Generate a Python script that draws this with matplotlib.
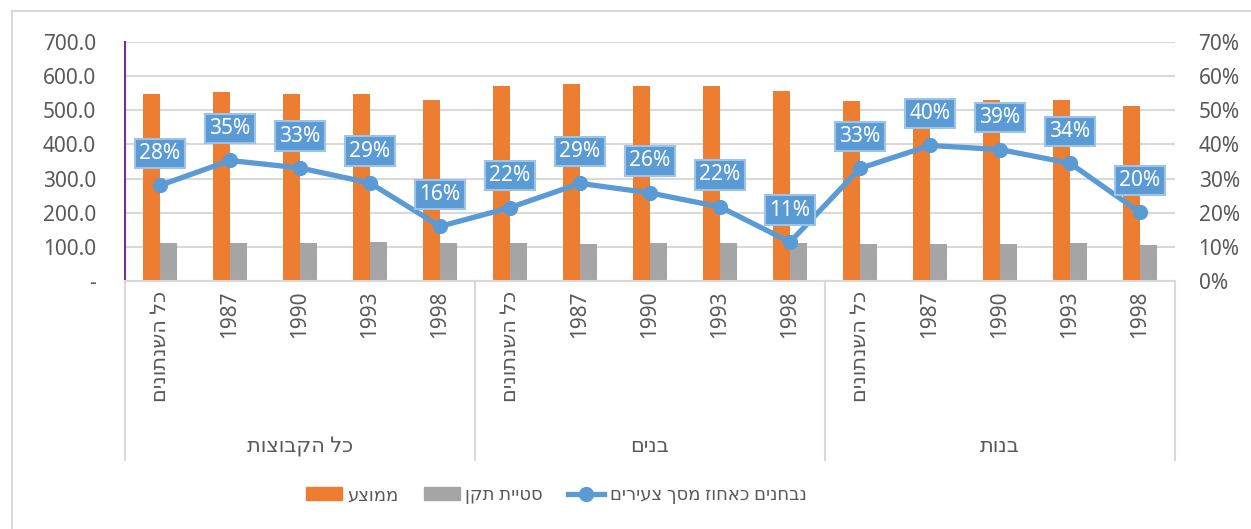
import numpy as np
import matplotlib
matplotlib.use("Agg")
import matplotlib.pyplot as plt
from matplotlib.lines import Line2D
from matplotlib.patches import Patch

plt.rcParams['font.family'] = ['Noto Sans', 'DejaVu Sans']


def heb(s):
    # matplotlib has no bidi support, so flip Hebrew strings for display
    if any('\u0590' <= c <= '\u05ff' for c in s):
        return s[::-1]
    return s


# ----- DATA -----
groups = ["כל הקבוצות", "בנים", "בנות"]
years = ["כל השנתונים", "1987", "1990", "1993", "1998"]
mean_vals = [547, 553, 549, 548, 531,
             572, 577, 572, 572, 557,
             528, 534, 530, 530, 513]
std_vals = [112, 110, 112, 113, 110,
            110, 108, 110, 112, 110,
            109, 109, 109, 111, 106]
pct_vals = [0.280, 0.353, 0.331, 0.287, 0.160,
            0.215, 0.286, 0.258, 0.217, 0.114,
            0.330, 0.397, 0.385, 0.345, 0.201]
pct_labels = ["28%", "35%", "33%", "29%", "16%",
              "22%", "29%", "26%", "22%", "11%",
              "33%", "40%", "39%", "34%", "20%"]
legend_names = ["ממוצע", "סטיית תקן", "נבחנים כאחוז מסך צעירים"]

ORANGE = '#ED7D31'
GRAY = '#A5A5A5'
BLUE = '#5B9BD5'
TXT = '#595959'
GRID = '#D9D9D9'

W, H = 1251, 529
fig = plt.figure(figsize=(W / 100, H / 100), dpi=100)
ax = fig.add_axes([125 / W, 1 - 281 / H, 1050 / W, 239 / H])
ax2 = ax.twinx()

x = np.arange(len(mean_vals))
bw = 17 / 70
ax.bar(x - bw / 2, mean_vals, bw, color=ORANGE, zorder=2)
ax.bar(x + bw / 2, std_vals, bw, color=GRAY, zorder=2)

ax.set_xlim(-0.5, len(x) - 0.5)
ax.set_ylim(0, 700)
ax.set_yticks(np.arange(0, 701, 100))
ax.set_yticklabels(["-"] + ["%.1f" % v for v in range(100, 701, 100)])
ax.grid(axis='y', color=GRID, lw=1.5, zorder=0)
ax.set_axisbelow(True)

for s in ['top', 'right']:
    ax.spines[s].set_visible(False)
    ax2.spines[s].set_visible(False)
ax2.spines['left'].set_visible(False)
ax.spines['left'].set_color('#7030A0')
ax.spines['left'].set_linewidth(1.5)
ax.spines['bottom'].set_color(GRID)
ax.spines['bottom'].set_linewidth(1.5)
ax2.spines['bottom'].set_visible(False)

ax.tick_params(axis='y', length=0, pad=21, labelsize=15, labelcolor=TXT)
ax.set_xticks(x)
ax.set_xticklabels([heb(y) for y in years] * len(groups), rotation=90,
                   va='top', ha='center', fontsize=15, color=TXT)
ax.tick_params(axis='x', length=0, pad=7)

# ----- LINE -----
ax2.plot(x, pct_vals, color=BLUE, lw=3.8, marker='o', ms=10, zorder=3)
ax2.set_ylim(0, 0.7)
ax2.set_yticks(np.arange(0, 0.71, 0.1))
ax2.set_yticklabels(["%d%%" % v for v in range(0, 71, 10)])
ax2.tick_params(axis='y', length=0, pad=17, labelsize=15, labelcolor=TXT)

for xi, v, lab in zip(x, pct_vals, pct_labels):
    ax2.annotate(lab, (xi, v), xytext=(0, 23), textcoords='offset points',
                 ha='center', va='center', fontsize=15, color='white', zorder=5,
                 bbox=dict(boxstyle='square,pad=0.2', fc=BLUE, ec='#9DC3E6', lw=1.5))

# ----- GROUP LABELS / SEPARATORS -----
trans = ax.get_xaxis_transform()
y_bot = -(460 - 281) / 239
for k in range(len(groups) + 1):
    xb = k * 5 - 0.5
    ax.plot([xb, xb], [0, y_bot], color=GRID, lw=1.5, transform=trans, clip_on=False)
for k, g in enumerate(groups):
    ax.text(k * 5 + 2, -(447 - 281) / 239, heb(g), transform=trans,
            ha='center', va='center', fontsize=15, color=TXT)

# ----- LEGEND -----
handles = [Patch(color=ORANGE), Patch(color=GRAY),
           Line2D([], [], color=BLUE, lw=3.8, marker='o', ms=10)]
fig.legend(handles, [heb(n) for n in legend_names], ncol=3, loc='center',
           bbox_to_anchor=(556 / W, 1 - 495 / H), frameon=False, fontsize=13,
           labelcolor=TXT, handlelength=2.0, handletextpad=0.3, columnspacing=1.4)

# chart frame
fig.add_artist(Line2D([12 / W, 12 / W], [0, 1 - 11 / H], color=GRID, lw=1.5))
fig.add_artist(Line2D([12 / W, 1], [1 - 11 / H, 1 - 11 / H], color=GRID, lw=1.5))

fig.savefig("out.png", dpi=100)
